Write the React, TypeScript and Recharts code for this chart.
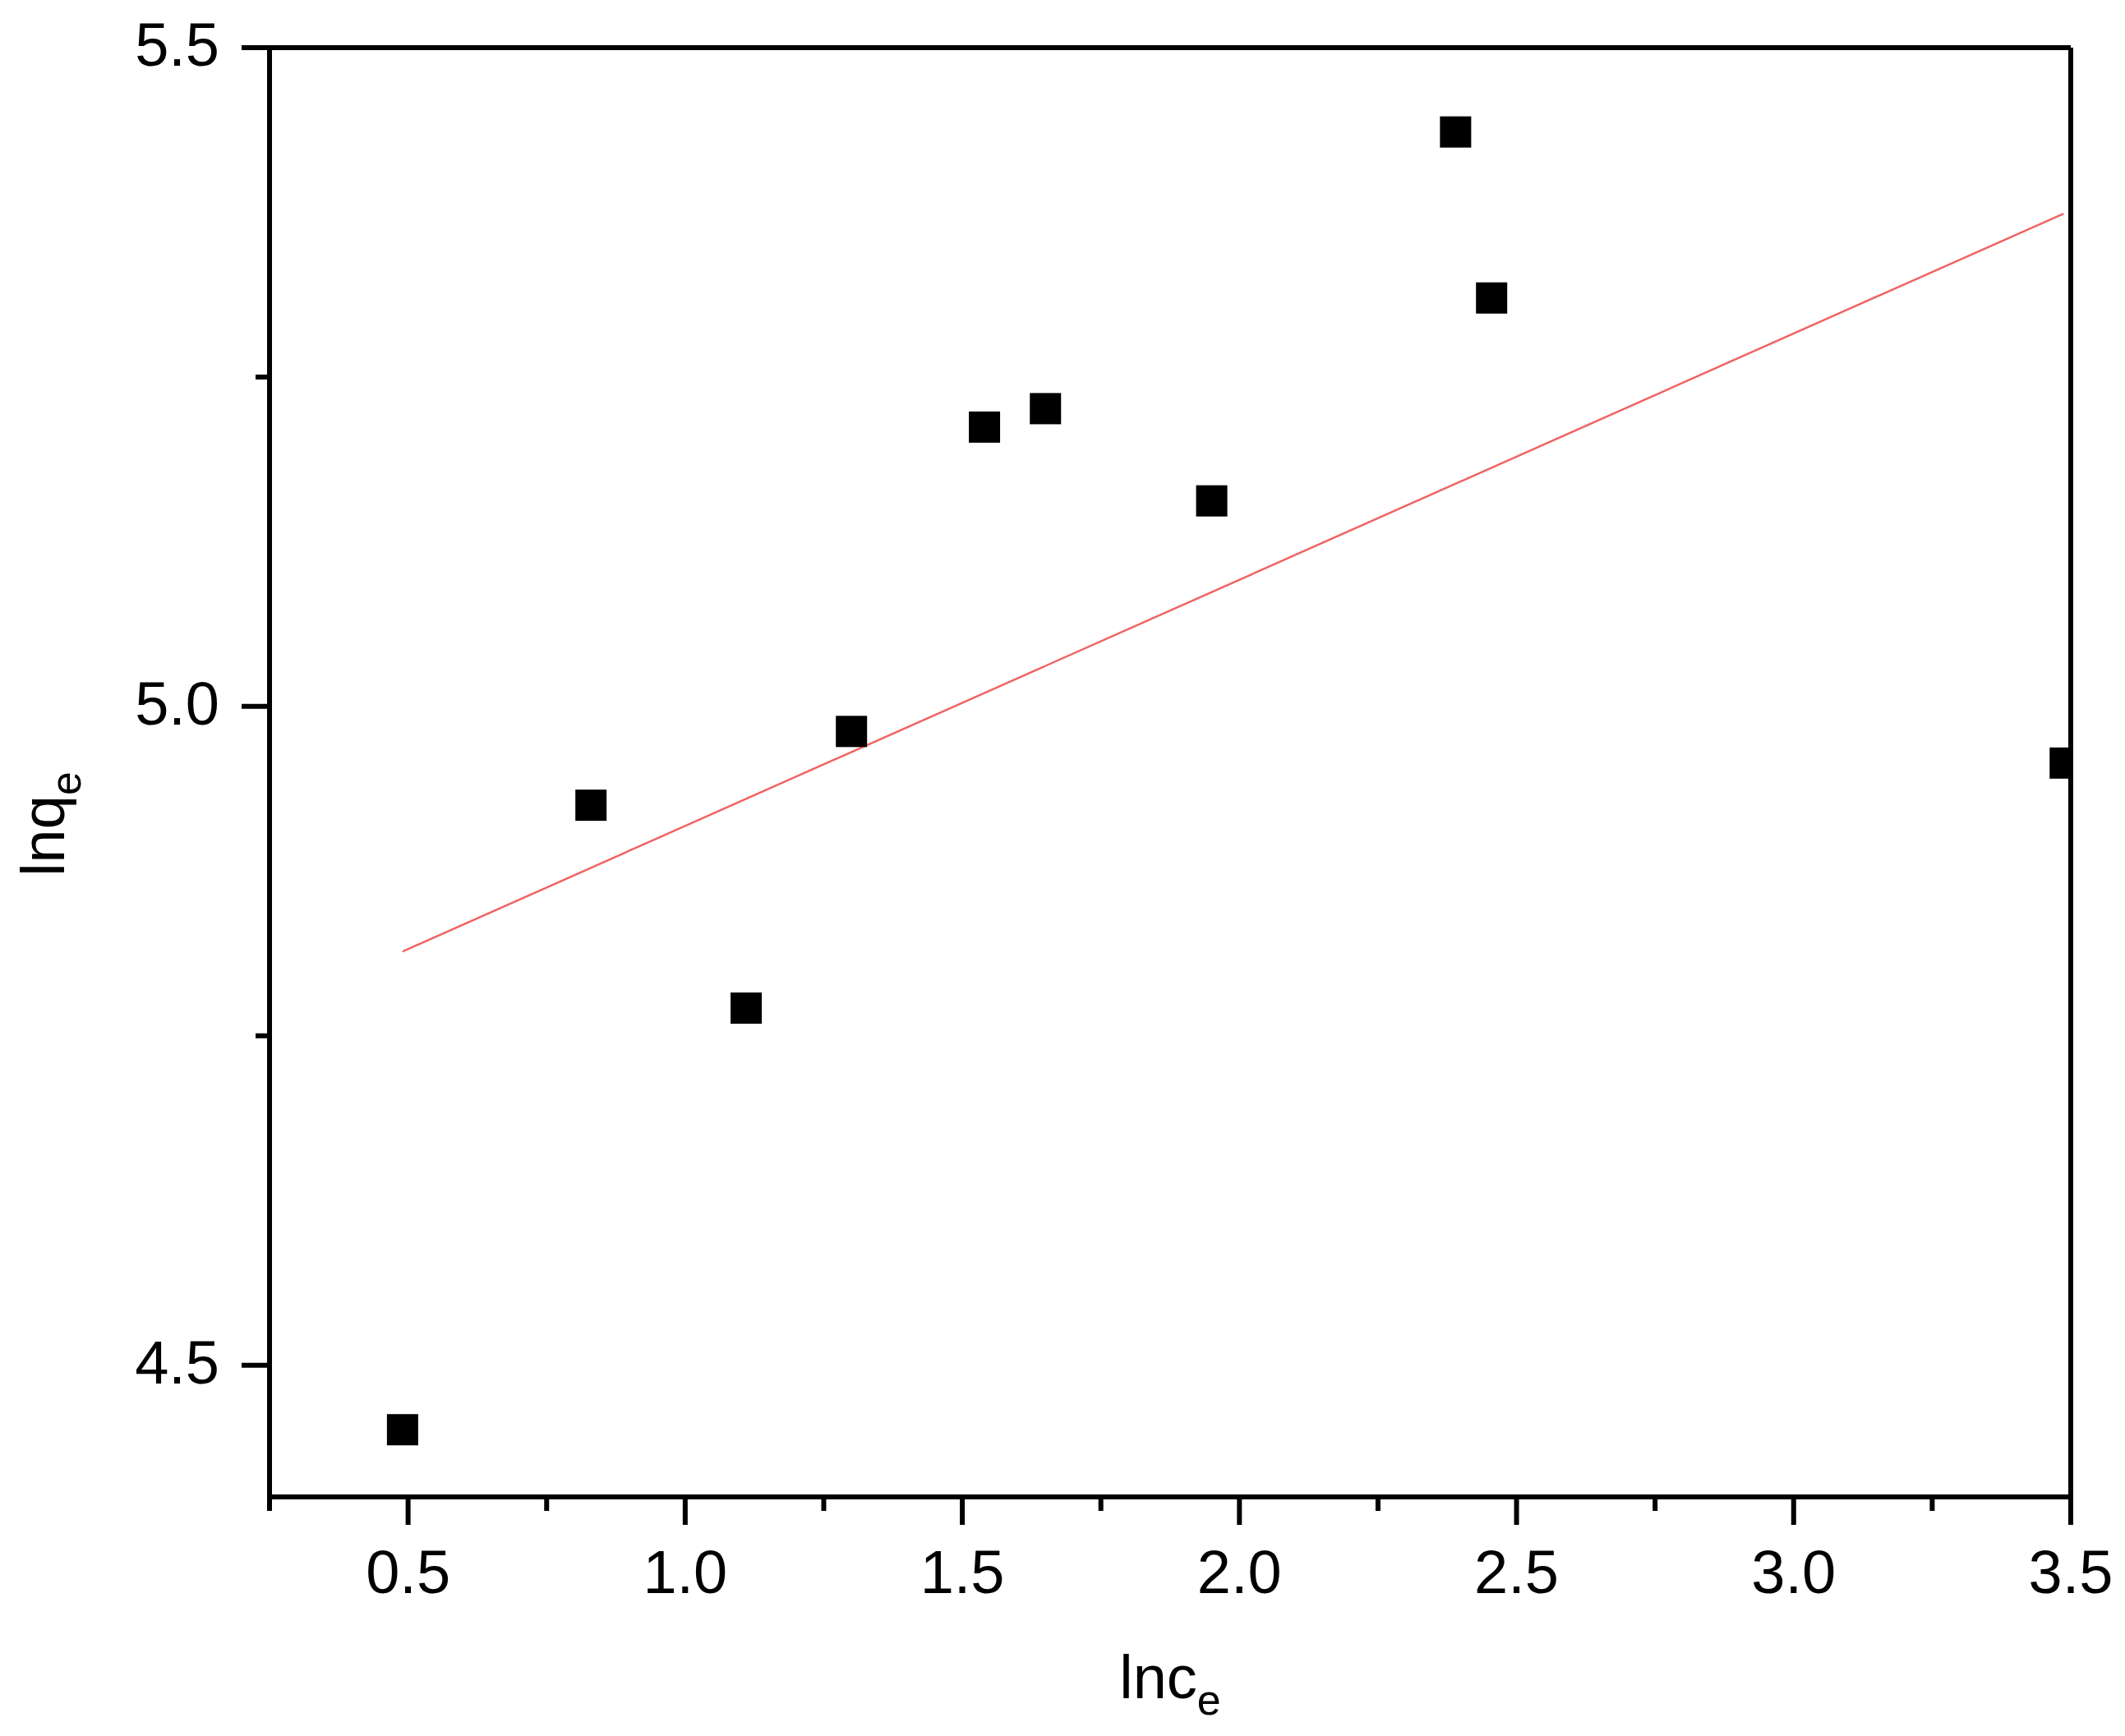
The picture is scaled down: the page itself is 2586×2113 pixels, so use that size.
import { ScatterChart, Scatter, XAxis, YAxis, ReferenceLine } from "recharts";

// ln ce vs ln qe
const lnCe = [0.49, 0.83, 1.11, 1.3, 1.54, 1.65, 1.95, 2.39, 2.455, 3.49];
const lnQe = [4.451, 4.925, 4.771, 4.981, 5.212, 5.226, 5.156, 5.436, 5.31, 4.957];

// linear fit end points
const fitX = [0.49, 3.487];
const fitY = [4.814, 5.374];

const xTicks = [0.25, 0.5, 0.75, 1.0, 1.25, 1.5, 1.75, 2.0, 2.25, 2.5, 2.75, 3.0, 3.25, 3.5];
const yTicks = [4.5, 4.75, 5.0, 5.25, 5.5];

const points = lnCe.map((x, i) => ({ x, y: lnQe[i] }));
const fit = fitX.map((x, i) => ({ x, y: fitY[i] }));

const FONT = "'Liberation Sans', Arial, sans-serif";
const MAJOR = 34;
const MINOR = 17;
const GAP = 30;
const AXIS_W = 6;
const MARK = 38;

const isMajor = (v: number) => Math.abs(v * 2 - Math.round(v * 2)) < 1e-6;

function XTick(props: any) {
  const { x, y, payload } = props;
  const axisY = y - MAJOR - GAP;
  const major = isMajor(payload.value);
  return (
    <g>
      <line x1={x} x2={x} y1={axisY} y2={axisY + (major ? MAJOR : MINOR)} stroke="#000" strokeWidth={AXIS_W} />
      {major && (
        <text x={x} y={y + 53} textAnchor="middle" fontSize={74} fontFamily={FONT} fill="#000">
          {payload.value.toFixed(1)}
        </text>
      )}
    </g>
  );
}

function YTick(props: any) {
  const { x, y, payload } = props;
  const axisX = x + MAJOR + 27;
  const major = isMajor(payload.value);
  return (
    <g>
      <line x1={axisX} x2={axisX - (major ? MAJOR : MINOR)} y1={y} y2={y} stroke="#000" strokeWidth={AXIS_W} />
      {major && (
        <text x={x} y={y + 22} textAnchor="end" fontSize={74} fontFamily={FONT} fill="#000">
          {payload.value.toFixed(1)}
        </text>
      )}
    </g>
  );
}

function Square(props: any) {
  const { cx, cy } = props;
  return <rect x={cx - MARK / 2} y={cy - MARK / 2} width={MARK} height={MARK} fill="#000" />;
}

function XTitle(props: any) {
  const { x, y, width } = props.viewBox;
  return (
    <text x={x + width / 2} y={y + 245} textAnchor="middle" fontSize={74} fontFamily={FONT} fill="#000">
      lnc
      <tspan dy={20} fontSize={52}>e</tspan>
    </text>
  );
}

function YTitle(props: any) {
  const { y, height } = props.viewBox;
  const cx = 78;
  const cy = y + height / 2 + 63;
  return (
    <text x={cx} y={cy} transform={`rotate(-90, ${cx}, ${cy})`} textAnchor="middle" fontSize={74} fontFamily={FONT} fill="#000">
      lnq
      <tspan dy={20} fontSize={52}>e</tspan>
    </text>
  );
}

export default function App() {
  return (
    <div style={{ position: "absolute", left: 0, top: 0, background: "#fff" }}>
      <ScatterChart width={2586} height={2113} margin={{ top: 58, right: 66, bottom: 0, left: 0 }}>
        <XAxis
          type="number"
          dataKey="x"
          domain={[0.25, 3.5]}
          ticks={xTicks}
          interval={0}
          allowDataOverflow
          height={291}
          tickSize={MAJOR}
          tickMargin={GAP}
          tickLine={false}
          tick={<XTick />}
          axisLine={{ stroke: "#000", strokeWidth: AXIS_W }}
          label={{ content: <XTitle /> }}
        />
        <YAxis
          type="number"
          dataKey="y"
          domain={[4.4, 5.5]}
          ticks={yTicks}
          interval={0}
          allowDataOverflow
          width={328}
          tickSize={MAJOR}
          tickMargin={27}
          tickLine={false}
          tick={<YTick />}
          axisLine={{ stroke: "#000", strokeWidth: AXIS_W }}
          label={{ content: <YTitle /> }}
        />
        <Scatter data={fit} line={{ stroke: "#f06464", strokeWidth: 2.5 }} shape={() => <g />} isAnimationActive={false} />
        <Scatter data={points} shape={<Square />} isAnimationActive={false} />
        <ReferenceLine y={5.5} stroke="#000" strokeWidth={AXIS_W} />
        <ReferenceLine x={3.5} stroke="#000" strokeWidth={AXIS_W} />
      </ScatterChart>
    </div>
  );
}
